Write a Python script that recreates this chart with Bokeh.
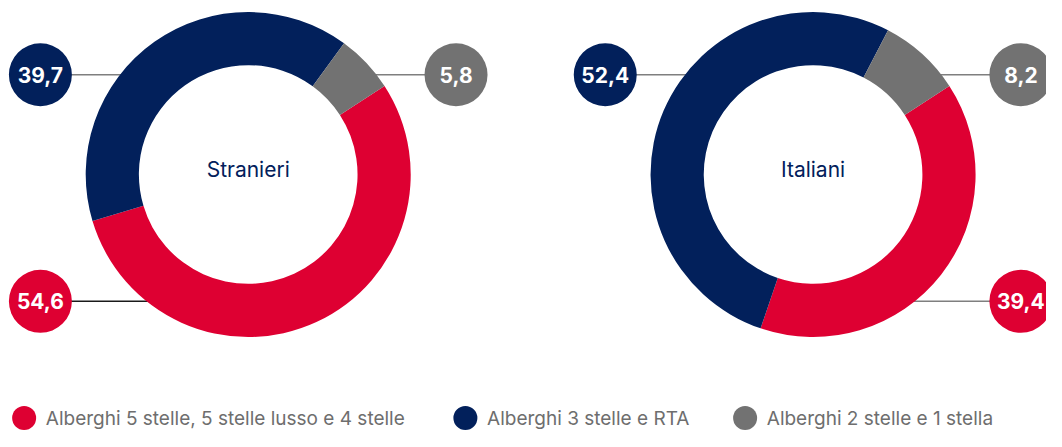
import math
from bokeh.plotting import figure
from bokeh.models import Range1d, ColumnDataSource
from bokeh.core.properties import value
from bokeh.embed import file_html
from bokeh.resources import INLINE

# ---- data ----
groups = ["Stranieri", "Italiani"]
categories = ["Alberghi 5 stelle, 5 stelle lusso e 4 stelle",
              "Alberghi 3 stelle e RTA",
              "Alberghi 2 stelle e 1 stella"]
stranieri = [54.6, 39.7, 5.8]
italiani = [39.4, 52.4, 8.2]
labels_stranieri = ["54,6", "39,7", "5,8"]
labels_italiani = ["39,4", "52,4", "8,2"]

colors = ["#DE0032", "#02205B", "#727272"]
FONT = "Inter"

W, H = 1046, 431
p = figure(width=W, height=H, output_backend="svg", toolbar_location=None,
           x_range=Range1d(0, 1062), y_range=Range1d(-447, 0),
           min_border=0, outline_line_color=None)
p.axis.visible = False
p.grid.visible = False
p.background_fill_color = "white"

R_OUT, R_IN = 165, 111
START = 57.0  # degrees clockwise from 12 o'clock
centers = [(251.5, -180.5), (825.0, -180.5)]
series = [stranieri, italiani]
lab_txt = [labels_stranieri, labels_italiani]
# label placement: (side, row) per category for each chart
placement = [
    [(-1, "bottom"), (-1, "top"), (1, "top")],
    [(1, "bottom"), (-1, "top"), (1, "top")],
]
row_y = {"top": -77.0, "bottom": -312.0}
line_cols = [["#1a1a1a", "#7f7f7f", "#7f7f7f"],
             ["#7f7f7f", "#7f7f7f", "#7f7f7f"]]
LX = 211

for ci, (cx, cy) in enumerate(centers):
    vals = series[ci]
    tot = sum(vals)
    th = START
    starts, ends = [], []
    for v in vals:
        a0 = th
        a1 = th + v / tot * 360.0
        starts.append(math.radians(90 - a0))
        ends.append(math.radians(90 - a1))
        th = a1
    # connector lines
    for k in range(3):
        side, row = placement[ci][k]
        ly = row_y[row]
        lx = cx + side * LX
        dy = ly - cy
        ex = cx + side * math.sqrt(max(R_OUT ** 2 - dy ** 2, 0)) - side * 2
        p.line([lx, ex], [ly, ly], line_color=line_cols[ci][k], line_width=1.5)
    src = ColumnDataSource(dict(s=starts, e=ends, c=colors))
    p.annular_wedge(x=cx, y=cy, inner_radius=R_IN, outer_radius=R_OUT,
                    start_angle="s", end_angle="e", direction="clock",
                    fill_color="c", line_color=None, source=src)
    p.text(x=[cx], y=[cy + 5], text=[groups[ci]], text_font=value(FONT),
           text_font_size="21px", text_color="#02205B",
           text_align="center", text_baseline="middle")
    for k in range(3):
        side, row = placement[ci][k]
        ly = row_y[row]
        lx = cx + side * LX
        p.scatter(x=[lx], y=[ly], size=63, marker="circle",
                  fill_color=colors[k], line_color=None)
        p.text(x=[lx], y=[ly], text=[lab_txt[ci][k]], text_font=value(FONT),
               text_font_size="21px", text_font_style="bold", text_color="white",
               text_align="center", text_baseline="middle")

# legend
leg_x = [24, 472, 756]
leg_y = -433
for k in range(3):
    p.scatter(x=[leg_x[k]], y=[leg_y], size=24, marker="circle",
              fill_color=colors[k], line_color=None)
    p.text(x=[leg_x[k] + 22], y=[leg_y], text=[categories[k]], text_font=value(FONT),
           text_font_size="19px", text_color="#6e6e6e",
           text_align="left", text_baseline="middle")

open("out.html", "w").write(file_html(p, INLINE))
